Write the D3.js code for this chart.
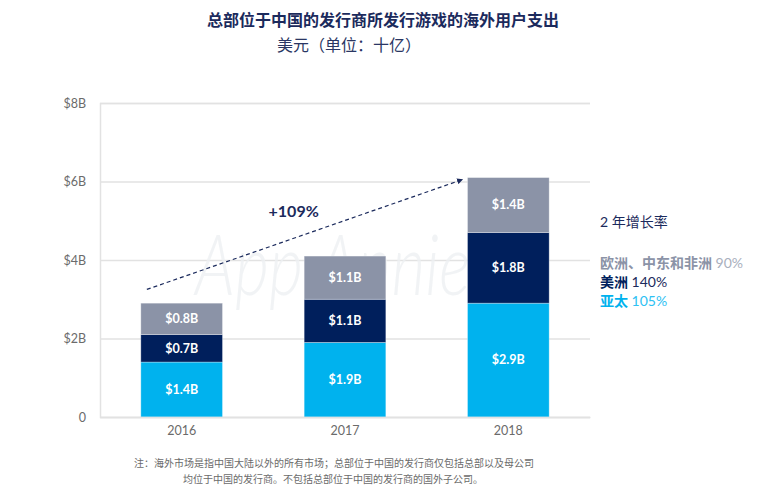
<!DOCTYPE html>
<html>
<head>
<meta charset="utf-8">
<script src="https://cdn.jsdelivr.net/npm/d3@7"></script>
<style>
  body { margin: 0; background: #fff; }
  svg text { font-family: Lato, "Noto Sans CJK SC", sans-serif; }
</style>
</head>
<body>
<div id="wrapper"></div>
<script>
const years = ['2016', '2017', '2018']
const apac = [1.4, 1.9, 2.9]
const americas = [0.7, 1.1, 1.8]
const emea = [0.8, 1.1, 1.4]
const yTicks = [0, 2, 4, 6, 8]
const yTickLabels = ['0', '$2B', '$4B', '$6B', '$8B']
const growthLabel = '+109%'
const legendItems = [
    { name: '欧洲、中东和非洲', rate: '90%', key: 'emea' },
    { name: '美洲', rate: '140%', key: 'americas' },
    { name: '亚太', rate: '105%', key: 'apac' }
]

const colors = {
    apac: '#00b2ee',
    americas: '#001f5c',
    emea: '#8b93a7'
}

const dimensions = {
    width: 766,
    height: 492,
    margin: { top: 103, right: 176, bottom: 75, left: 100 }
}
dimensions.boundedWidth = dimensions.width - dimensions.margin.left - dimensions.margin.right
dimensions.boundedHeight = dimensions.height - dimensions.margin.top - dimensions.margin.bottom

const data = years.map((y, i) => ({ year: y, apac: apac[i], americas: americas[i], emea: emea[i] }))
const keys = ['apac', 'americas', 'emea']

function drawChart () {
    const svg = d3.select('#wrapper').append('svg')
        .attr('width', dimensions.width)
        .attr('height', dimensions.height)

    // title
    svg.append('text')
        .attr('x', 383).attr('y', 26)
        .attr('text-anchor', 'middle')
        .attr('font-size', 16).attr('font-weight', 'bold')
        .attr('fill', '#1b2a5c')
        .text('总部位于中国的发行商所发行游戏的海外用户支出')
    svg.append('text')
        .attr('x', 349).attr('y', 51)
        .attr('text-anchor', 'middle')
        .attr('font-size', 16)
        .attr('fill', '#2a3663')
        .text('美元（单位：十亿）')

    const bounds = svg.append('g')
        .attr('transform', `translate(${dimensions.margin.left}, ${dimensions.margin.top})`)

    const xScale = d3.scaleBand()
        .domain(years)
        .range([0, dimensions.boundedWidth])
        .paddingInner(0.5)
        .paddingOuter(0.25)

    const yScale = d3.scaleLinear()
        .domain([0, 8])
        .range([dimensions.boundedHeight, 0])

    // grid
    const yAxis = bounds.append('g')
        .call(d3.axisLeft(yScale)
            .tickValues(yTicks)
            .tickSize(-dimensions.boundedWidth)
            .tickFormat((d, i) => yTickLabels[i]))
    yAxis.select('.domain').attr('stroke', '#e2e2e2').attr('stroke-width', 1.5)
    yAxis.selectAll('.tick line').attr('stroke', '#e2e2e2').attr('stroke-width', 1.5)
    yAxis.selectAll('.tick text')
        .attr('x', -14)
        .attr('font-size', 12.5)
        .attr('fill', '#6b6b6b')

    // watermark
    bounds.append('text')
        .attr('x', 95)
        .attr('y', yScale(3.1))
        .attr('font-size', 84)
        .attr('font-style', 'italic')
        .attr('font-weight', 300)
        .attr('textLength', 275)
        .attr('lengthAdjust', 'spacingAndGlyphs')
        .attr('fill', '#eef0f3')
        .attr('fill-opacity', 0.8)
        .text('App Annie')

    const stack = d3.stack().keys(keys)(data)

    const layers = bounds.selectAll('.layer')
        .data(stack)
        .join('g')
        .attr('fill', d => colors[d.key])

    layers.selectAll('rect')
        .data(d => d)
        .join('rect')
        .attr('x', d => xScale(d.data.year))
        .attr('width', xScale.bandwidth())
        .attr('y', d => yScale(d[1]))
        .attr('height', d => yScale(d[0]) - yScale(d[1]))
        .attr('stroke', '#ffffff')
        .attr('stroke-opacity', 0.4)
        .attr('stroke-width', 0.8)

    stack.forEach(layer => {
        bounds.append('g').selectAll('text')
            .data(layer)
            .join('text')
            .attr('x', d => xScale(d.data.year) + xScale.bandwidth() / 2)
            .attr('y', d => yScale((d[0] + d[1]) / 2))
            .attr('dy', '0.35em')
            .attr('text-anchor', 'middle')
            .attr('font-size', 12.5)
            .attr('font-weight', 'bold')
            .attr('fill', '#ffffff')
            .text(d => `$${d3.format('.1f')(d.data[layer.key])}B`)
    })

    // x axis
    const xAxis = bounds.append('g')
        .attr('transform', `translate(0, ${dimensions.boundedHeight})`)
        .call(d3.axisBottom(xScale).tickSize(0))
    xAxis.select('.domain').attr('stroke', '#e2e2e2').attr('stroke-width', 1.5)
    xAxis.selectAll('.tick text')
        .attr('y', 9)
        .attr('font-size', 12.5)
        .attr('fill', '#6b6b6b')

    // growth arrow
    const totals = data.map(d => d.apac + d.americas + d.emea)
    const x1 = xScale('2016') + 6
    const y1 = yScale(totals[0] + 0.35)
    const x2 = xScale('2018') - 5
    const y2 = yScale(totals[2] - 0.05)

    svg.append('defs').append('marker')
        .attr('id', 'arrow')
        .attr('viewBox', '0 0 10 10')
        .attr('refX', 9).attr('refY', 5)
        .attr('markerWidth', 5).attr('markerHeight', 5)
        .attr('orient', 'auto')
        .append('path')
        .attr('d', 'M0,0 L10,5 L0,10 z')
        .attr('fill', '#1b2a5c')

    bounds.append('line')
        .attr('x1', x1).attr('y1', y1)
        .attr('x2', x2).attr('y2', y2)
        .attr('stroke', '#1b2a5c')
        .attr('stroke-width', 1.2)
        .attr('stroke-dasharray', '4,3')
        .attr('marker-end', 'url(#arrow)')

    bounds.append('text')
        .attr('x', (x1 + x2) / 2 - 11)
        .attr('y', (y1 + y2) / 2 - 17)
        .attr('text-anchor', 'middle')
        .attr('font-size', 16)
        .attr('font-weight', 'bold')
        .attr('fill', '#1b2a5c')
        .text(growthLabel)

    // legend
    const legend = svg.append('g').attr('transform', 'translate(600, 0)')
    legend.append('text')
        .attr('y', 227)
        .attr('font-size', 14)
        .attr('fill', '#1b2a5c')
        .text('2 年增长率')

    const rateColors = { emea: '#a9afbd', americas: '#1b2a5c', apac: '#2ec1f3' }
    legendItems.forEach((item, i) => {
        const t = legend.append('text')
            .attr('y', 268 + i * 19)
            .attr('font-size', 14)
        t.append('tspan')
            .attr('font-weight', 'bold')
            .attr('fill', colors[item.key])
            .text(item.name)
        t.append('tspan')
            .attr('fill', rateColors[item.key])
            .text(' ' + item.rate)
    })

    // footnote
    const note = svg.append('g').attr('fill', '#6b6b6b').attr('font-size', 10)
    note.append('text')
        .attr('x', 334).attr('y', 467)
        .attr('text-anchor', 'middle')
        .text('注：海外市场是指中国大陆以外的所有市场；总部位于中国的发行商仅包括总部以及母公司')
    note.append('text')
        .attr('x', 333).attr('y', 483)
        .attr('text-anchor', 'middle')
        .text('均位于中国的发行商。不包括总部位于中国的发行商的国外子公司。')
}

drawChart()
</script>
</body>
</html>
